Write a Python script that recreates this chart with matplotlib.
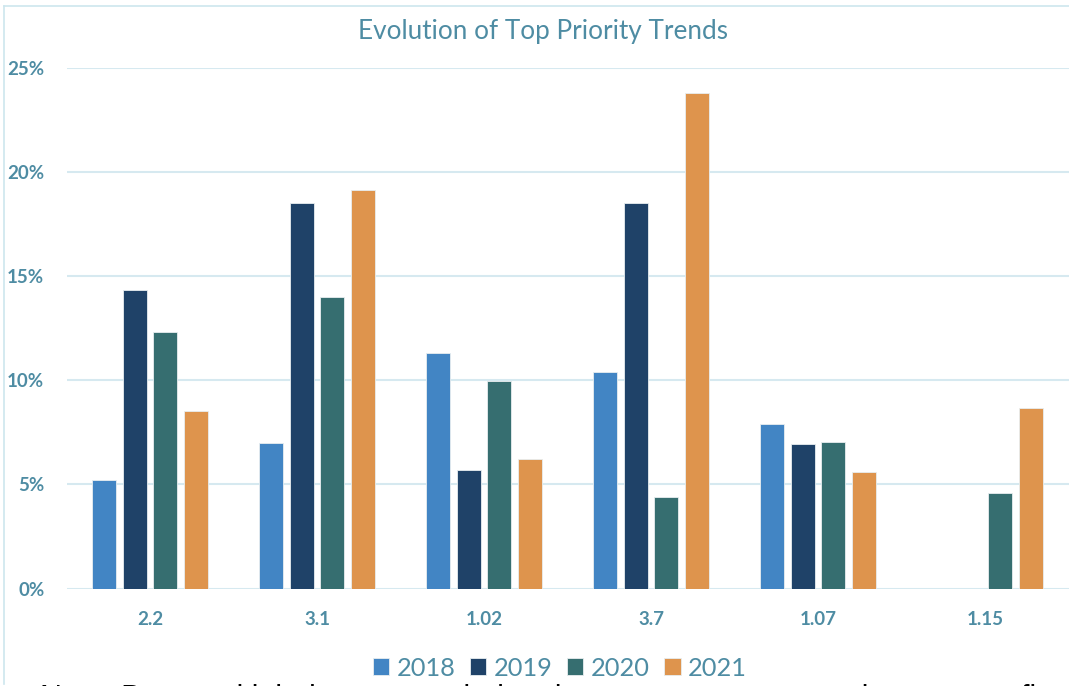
import matplotlib
matplotlib.use("Agg")
import matplotlib.pyplot as plt
from matplotlib.lines import Line2D
from matplotlib.ticker import PercentFormatter
import numpy as np

categories = ["2.2", "3.1", "1.02", "3.7", "1.07", "1.15"]
years = ["2018", "2019", "2020", "2021"]
v2018 = [5.2, 7.0, 11.3, 10.4, 7.9, 0.0]
v2019 = [14.35, 18.5, 5.7, 18.5, 6.95, 0.0]
v2020 = [12.3, 14.0, 9.95, 4.4, 7.05, 4.6]
v2021 = [8.5, 19.15, 6.2, 23.77, 5.6, 8.65]
series = [v2018, v2019, v2020, v2021]
colors = ["#4285C4", "#1F4268", "#366E70", "#DE944D"]
title = "Evolution of Top Priority Trends"
note = "Note: Bars and labels are rounded to the nearest percent and may not reflect exact totals"

plt.rcParams['font.family'] = ['Lato', 'DejaVu Sans']
text_color = "#4E8CA3"
grid_color = "#D6E9F0"

fig = plt.figure(figsize=(10.69, 6.86), dpi=100)
ax = fig.add_axes([66.5/1069, 97.5/686, 1002/1069, 520.8/686])

x = np.arange(len(categories))
step = 0.183
width = 0.145
for i, (vals, col, yr) in enumerate(zip(series, colors, years)):
    ax.bar(x + (i - 1.5) * step, vals, width=width, color=col, label=yr,
           edgecolor="#E8EEF0", linewidth=0.6, zorder=3)

ax.set_xlim(-0.5, len(categories) - 0.5)
ax.set_ylim(0, 25)
ax.set_yticks([0, 5, 10, 15, 20, 25])
ax.yaxis.set_major_formatter(PercentFormatter(decimals=0))
ax.set_xticks(x)
ax.set_xticklabels(categories)
ax.grid(axis='y', color=grid_color, linewidth=1.5, zorder=0)
ax.set_axisbelow(True)
for s in ax.spines.values():
    s.set_visible(False)
ax.tick_params(axis='both', length=0, colors=text_color, labelsize=13.5)
ax.tick_params(axis='x', pad=16)
ax.tick_params(axis='y', pad=16)
for lab in ax.get_xticklabels() + ax.get_yticklabels():
    lab.set_fontweight('bold')
    lab.set_color(text_color)

fig.text(543/1069, 1 - 32/686, title, ha='center', va='center',
         fontsize=18.8, color=text_color)

leg = fig.legend(loc='center', bbox_to_anchor=(560/1069, 1 - 668/686), ncol=4,
                 frameon=False, fontsize=18.3, handlelength=0.65, handleheight=0.65,
                 handletextpad=0.3, columnspacing=0.55, borderaxespad=0)
for t in leg.get_texts():
    t.set_color(text_color)

# frame lines (top and left border of the chart card)
fig.add_artist(Line2D([4/1069, 4/1069], [1 - 6/686, 1 - 684/686],
                      transform=fig.transFigure, color="#CDE6EE", linewidth=1.2))
fig.add_artist(Line2D([4/1069, 1.0], [1 - 6/686, 1 - 6/686],
                      transform=fig.transFigure, color="#CDE6EE", linewidth=1.2))

fig.text(40/1069, 1 - 707/686, note, ha='left', va='baseline',
         fontsize=22, color='black', family=['Liberation Sans', 'DejaVu Sans'])

fig.savefig("out.png", dpi=100)
